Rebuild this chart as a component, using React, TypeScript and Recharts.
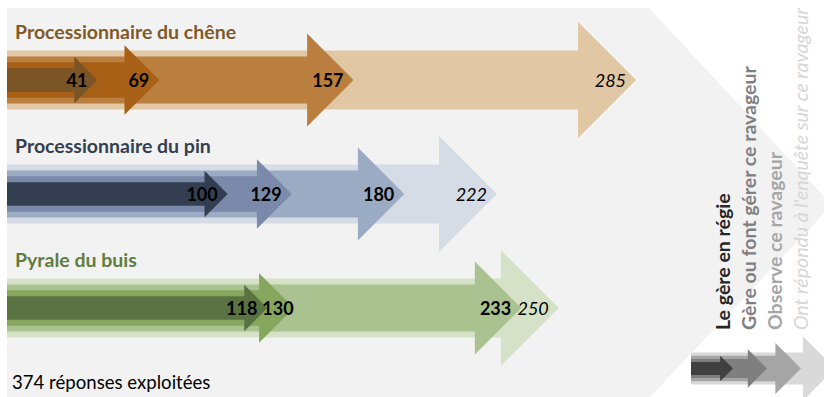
import React from "react";
import { BarChart, Bar, XAxis, YAxis } from "recharts";

// three pests, four nested counts each
const pests = ["Processionnaire du chêne", "Processionnaire du pin", "Pyrale du buis"];
const regie = [41, 100, 118];
const gere = [69, 129, 130];
const observe = [157, 180, 233];
const repondu = [285, 222, 250];

const legendLabels = [
  "Le gère en régie",
  "Gère ou font gérer ce ravageur",
  "Observe ce ravageur",
  "Ont répondu à l'enquête sur ce ravageur",
];
const footnote = "374 réponses exploitées";

const data = pests.map((name, i) => ({
  name,
  regie: regie[i],
  gere: gere[i],
  observe: observe[i],
  repondu: repondu[i],
}));

// colours per row: title, then fills from darkest (regie) to lightest (repondu)
const palettes = [
  { title: "#7f5a28", fills: ["#7b5526", "#a86016", "#ba7f3f", "#e1c7a3"] },
  { title: "#333f50", fills: ["#333f50", "#7b89ab", "#9babc3", "#d6dce5"] },
  { title: "#5f7d3f", fills: ["#5b7343", "#87a65d", "#a9c28f", "#d5e2c8"] },
];
const legendFills = ["#404040", "#7f7f7f", "#a5a5a5", "#d9d9d9"];
const legendText = ["#262626", "#808080", "#a6a6a6", "#d6d6d6"];

const keys = ["regie", "gere", "observe", "repondu"] as const;
const scales = [0.4, 0.6, 0.8, 1];
const FONT = "Lato, 'Open Sans', sans-serif";

function arrowPath(x0: number, cy: number, tip: number, s: number, base = 58, body = 29.5) {
  const bh = body * s;
  const hh = base * s;
  const b = Math.max(x0, tip - hh);
  return `M${x0},${cy - bh}L${b},${cy - bh}L${b},${cy - hh}L${tip},${cy}L${b},${cy + hh}L${b},${cy + bh}L${x0},${cy + bh}Z`;
}

function makeShape(layer: number) {
  return (props: any) => {
    const { x, y, width, height, payload } = props;
    const row = pests.indexOf(payload.name);
    const pal = palettes[row];
    const cy = y + height / 2;
    const arrow = (
      <path d={arrowPath(x, cy, x + width, scales[layer])} fill={pal.fills[layer]} />
    );
    if (layer !== 0) return <g>{arrow}</g>;

    // last drawn layer: put title and all value labels on top
    const k = width / payload.regie;
    let prevEnd = -Infinity;
    const labels = keys.map((key, j) => {
      const v = payload[key];
      const w = String(v).length * 10.4;
      let end = x + k * v - 10;
      if (end - w < prevEnd + 5) end = prevEnd + 5 + w;
      prevEnd = end;
      const last = j === keys.length - 1;
      return (
        <text
          key={key}
          x={end}
          y={cy + 6.5}
          textAnchor="end"
          fontFamily={FONT}
          fontSize={18}
          fontWeight={last ? 400 : 700}
          fontStyle={last ? "italic" : "normal"}
          fill="#000"
        >
          {v}
        </text>
      );
    });
    return (
      <g>
        {arrow}
        <text x={x + 8} y={cy - 41.5} fontFamily={FONT} fontSize={19.5} fontWeight={700} fill={pal.title}>
          {payload.name}
        </text>
        {labels}
      </g>
    );
  };
}

export default function App() {
  return (
    <div style={{ position: "absolute", left: 0, top: 0, width: 824, height: 397, overflow: "hidden", background: "#fff" }}>
      <svg width={824} height={397} style={{ position: "absolute", left: 0, top: 0 }}>
        <polygon points="7,8 649,8 832,205 645,402 7,402" fill="#f2f2f2" />
      </svg>
      <div style={{ position: "absolute", left: 0, top: 0 }}>
        <BarChart
          width={824}
          height={397}
          data={data}
          layout="vertical"
          margin={{ top: 23, right: 44.5, bottom: 32, left: 7 }}
          barSize={100}
          barGap={-100}
        >
          <XAxis type="number" domain={[0, 350]} hide />
          <YAxis type="category" dataKey="name" hide />
          {[3, 2, 1, 0].map((layer) => (
            <Bar
              key={keys[layer]}
              dataKey={keys[layer]}
              shape={makeShape(layer)}
              isAnimationActive={false}
            />
          ))}
        </BarChart>
      </div>
      <svg width={824} height={397} style={{ position: "absolute", left: 0, top: 0 }}>
        <text x={12} y={389} fontFamily={FONT} fontSize={18.6} fill="#000">
          {footnote}
        </text>
        {[3, 2, 1, 0].map((i) => (
          <path
            key={i}
            d={arrowPath(691, 368.5, 733 + 34 * i, scales[i], 32, 16)}
            fill={legendFills[i]}
          />
        ))}
        {legendLabels.map((t, i) => (
          <text
            key={t}
            transform={`translate(${730 + 26 * i},330) rotate(-90)`}
            fontFamily={FONT}
            fontSize={19.5}
            fontWeight={i === 3 ? 400 : 700}
            fontStyle={i === 3 ? "italic" : "normal"}
            fill={legendText[i]}
          >
            {t}
          </text>
        ))}
      </svg>
    </div>
  );
}
